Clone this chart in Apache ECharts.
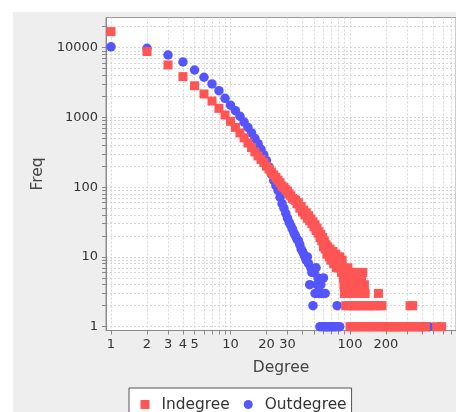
<!DOCTYPE html>
<html><head><meta charset="utf-8">
<script src="https://cdn.jsdelivr.net/npm/echarts@6/dist/echarts.min.js"></script>
<style>html,body{margin:0;padding:0;background:#fff;width:456px;height:412px;overflow:hidden}
#c{position:absolute;left:13px;top:12px;width:443px;height:400px}</style>
</head><body><div id="c"></div>
<script>
// Indegree (red squares)
const inDegree = [1,2,3,4,5,6,7,8,9,10,11,12,13,14,15,16,17,18,19,20,21,22,23,24,25,26,27,28,29,30,
  31,32,33,34,35,36,37,38,39,40,41,42,43,44,45,46,47,48,49,50,51,52,53,54,55,56,57,58,59,
  60,61,62,63,64,65,66,67,68,69,70,71,72,73,74,75,76,77,78,79,80,81,82,83,84,85,86,87,88,89,90,
  91,92,93,94,95,96,97,98,99,100,101,102,103,104,105,106,107,108,109,110,111,112,113,114,115,116,117,118,119,120,
  121,122,123,124,125,126,127,128,130,132,134,136,138,140,143,146,150,153,157,160,165,170,173,176,180,185,190,198,
  205,212,220,228,236,245,255,265,276,288,300,310,318,325,335,345,358,372,386,400,414,428,530,585];
const inFreq = [17000,8800,5650,3850,2850,2170,1720,1350,1085,880,720,600,510,430,370,320,280,250,225,200,182,165,150,138,126,116,104,99,92,88,
  80,75,69,67,65,58,60,50,53,44,47,40,43,36,39,33,35,30,32,27,29,24,26,22,23,19,21,17,19,
  14,17,13,15,11,14,12,10,13,9,11,10,12,8,10,9,11,7,8,10,7,8,10,7,8,6,9,7,5,4,3,
  6,2,5,4,3,7,2,5,4,1,6,2,4,1,5,3,2,6,4,1,3,5,2,4,1,3,6,2,4,1,
  5,3,2,1,5,4,2,6,3,4,3,1,2,1,2,1,2,1,2,1,2,1,3,1,2,2,1,1,
  1,1,1,1,1,1,1,1,1,1,1,1,2,1,2,1,1,1,1,1,1,1,1,1];
// Outdegree (blue circles)
const outDegree = [1,2,3,4,5,6,7,8,9,10,11,12,13,14,15,16,17,18,19,20,21,22,23,24,25,26,27,28,29,30,
  31,32,33,34,35,36,37,38,39,40,41,42,43,44,45,46,47,48,49,50,51,52,53,54,55,56,57,58,59,60,
  61,62,63,64,65,67,68,70,72,74,76,78,79,82,460];
const outFreq = [10300,9800,7860,6240,4790,3770,3020,2420,1880,1500,1250,1040,860,720,600,500,420,350,290,240,195,155,125,105,90,72,58,50,42,36,
  31,28,25,22,20,18,17,15,13,12,11,10,9,10,8,4,7,6,2,6,3,7,4,5,3,1,4,3,1,5,
  1,3,1,1,1,1,1,1,1,1,1,2,1,1,1];
// axis ticks / labels
const xTickValues = [1,2,3,4,5,6,7,8,9,10,20,30,40,50,60,70,80,90,100,200,300,400,500,600,700];
const xLabelValues = [1,2,3,4,5,10,20,30,100,200];
const yTickValues = [1,2,3,4,5,6,7,8,9,10,20,30,40,50,60,70,80,90,100,200,300,400,500,600,700,800,900,
  1000,2000,3000,4000,5000,6000,7000,8000,9000,10000,20000];
const yLabelValues = [1,10,100,1000,10000];

const font = 'DejaVu Sans';
const chart = echarts.init(document.getElementById('c'), null, {renderer:'canvas'});
const fmt = v => String(Math.round(v));
const gridLine = {show:true, lineStyle:{color:'#d6d6d6', width:1, type:[2,2]}};
chart.setOption({
  animation:false,
  backgroundColor:'#eeeeee',
  grid:{left:93, top:5.5, right:0, bottom:81.5, show:true, backgroundColor:'#ffffff', borderColor:'#999999', borderWidth:1},
  legend:{
    left:116, top:376, orient:'horizontal', selectedMode:false,
    data:[{name:'Indegree', icon:'rect'},{name:'Outdegree', icon:'circle'}],
    itemWidth:9, itemHeight:9, itemGap:14, padding:[9,5,7,11.5],
    backgroundColor:'#ffffff', borderColor:'#555555', borderWidth:1, borderRadius:0,
    textStyle:{fontSize:15.4, color:'#333', fontFamily:font, padding:[0,0,0,7]}
  },
  xAxis:{
    type:'log', logBase:10, min:0.908, max:771,
    name:'Degree', nameLocation:'middle', nameGap:29,
    nameTextStyle:{fontSize:15.5, color:'#444', fontFamily:font},
    axisLine:{show:true, onZero:false, lineStyle:{color:'#888'}},
    axisTick:{show:true, customValues:xTickValues, length:4, lineStyle:{color:'#888'}},
    axisLabel:{customValues:xLabelValues, margin:8, fontSize:13, color:'#333', fontFamily:font, formatter:fmt},
    splitLine:gridLine
  },
  yAxis:{
    type:'log', logBase:10, min:0.882, max:27100,
    name:'Freq', nameLocation:'middle', nameGap:58,
    nameTextStyle:{fontSize:15.5, color:'#444', fontFamily:font},
    axisLine:{show:true, onZero:false, lineStyle:{color:'#888'}},
    axisTick:{show:true, customValues:yTickValues, length:4, lineStyle:{color:'#888'}},
    axisLabel:{customValues:yLabelValues, margin:8, fontSize:13, color:'#333', fontFamily:font, formatter:fmt},
    splitLine:gridLine
  },
  series:[
    {name:'Outdegree', type:'scatter', symbol:'circle', symbolSize:9.5, z:2,
     itemStyle:{color:'#5555ff', opacity:1}, emphasis:{disabled:true},
     data: outDegree.map((d,i)=>[d,outFreq[i]])},
    {name:'Indegree', type:'scatter', symbol:'rect', symbolSize:9, z:3,
     itemStyle:{color:'#ff5555', opacity:1}, emphasis:{disabled:true},
     data: inDegree.map((d,i)=>[d,inFreq[i]])}
  ]
});
</script></body></html>
